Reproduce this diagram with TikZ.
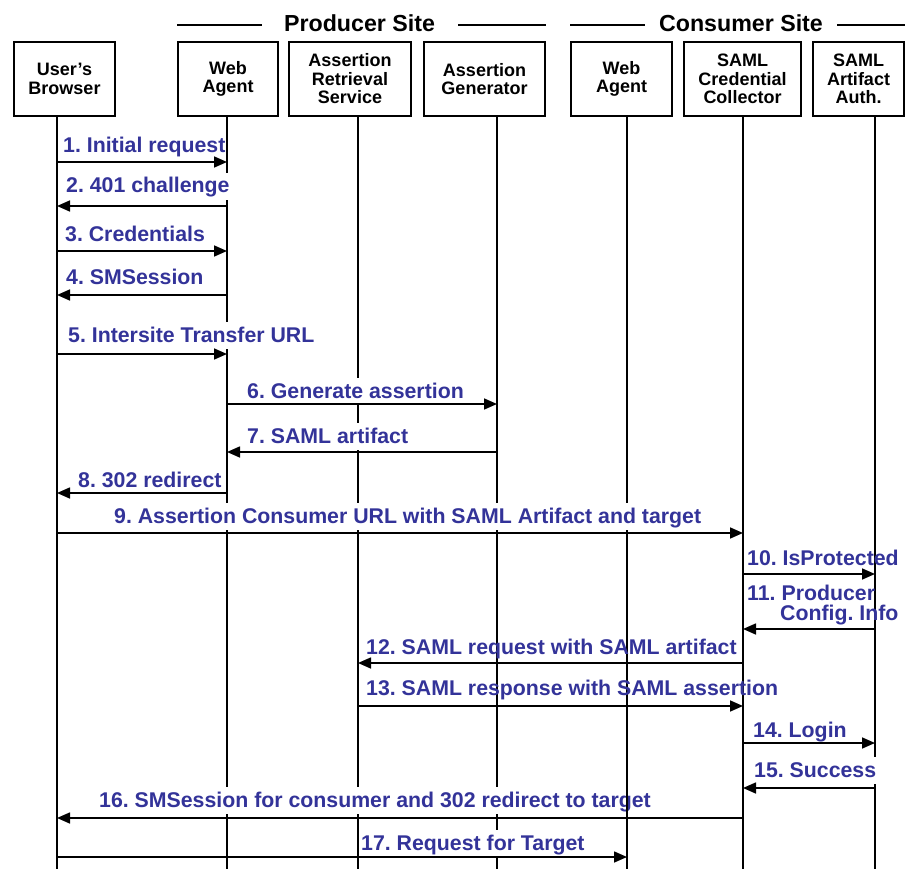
\documentclass[tikz,border=0pt]{standalone}
\usepackage{fontspec}
\setmainfont{Liberation Sans}
\usetikzlibrary{arrows.meta}
\definecolor{msgblue}{RGB}{51,51,153}
\frenchspacing
\begin{document}
\begin{tikzpicture}[x=1pt,y=-1pt,
  actor/.style={draw, line width=1.5pt, minimum width=#1, minimum height=74pt,
    inner sep=0pt, align=center, font=\fontsize{18}{18.5}\selectfont\bfseries},
  site/.style={anchor=base, inner sep=0pt, font=\fontsize{23.2}{24}\selectfont\bfseries},
  hdr/.style={line width=1.5pt},
  life/.style={line width=1.8pt},
  lbl/.style={anchor=base west, inner xsep=0pt, inner ysep=3pt, text height=17pt,
    text depth=4pt, fill=white, text=msgblue, font=\fontsize{21.3}{21.3}\selectfont\bfseries},
  lblplain/.style={anchor=base west, inner sep=0pt, text=msgblue,
    font=\fontsize{21.3}{21.3}\selectfont\bfseries},
  msg/.style={line width=1.6pt, -{Triangle[length=13pt,width=11pt]}}
]
\useasboundingbox (0,0) rectangle (905,869);

% participants
\node[actor=101pt] (ub)  at (64.5,79)  {User's\\Browser};
\node[actor=100pt] (wa1) at (228,79)   {Web\\Agent};
\node[actor=122pt] (ars) at (350,79)   {Assertion\\Retrieval\\Service};
\node[actor=121pt] (ag)  at (484.5,79) {Assertion\\Generator};
\node[actor=101pt] (wa2) at (621.5,79) {Web\\Agent};
\node[actor=117pt] (scc) at (742.5,79) {SAML\\Credential\\Collector};
\node[actor=91pt]  (saa) at (858.5,79) {SAML\\Artifact\\Auth.};

% site headings
\node[site] (ps) at (359.5,32) {Producer Site};
\node[site] (cs) at (741,32)   {Consumer Site};
\draw[hdr] (wa1.west |- 0,25) -- ([xshift=-22pt]ps.west |- 0,25);
\draw[hdr] ([xshift=23pt]ps.east |- 0,25) -- (ag.east |- 0,25);
\draw[hdr] (wa2.west |- 0,25) -- ([xshift=-14pt]cs.west |- 0,25);
\draw[hdr] ([xshift=14pt]cs.east |- 0,25) -- (905,25);

% lifelines
\coordinate (l1) at (ub.south  -| 57,0);
\coordinate (l2) at (wa1.south -| 227,0);
\coordinate (l3) at (ars.south -| 358,0);
\coordinate (l4) at (ag.south  -| 497,0);
\coordinate (l5) at (wa2.south -| 627,0);
\coordinate (l6) at (scc.south -| 743,0);
\coordinate (l7) at (saa.south -| 875,0);
\foreach \l in {l1,l2,l3,l4,l5,l6,l7}
  \draw[life] (\l) -- (\l |- 0,869);

% message labels
\node[lbl] (m1)  at (63,153)  {1. Initial request};
\node[lbl] (m2)  at (66,193)  {2. 401 challenge};
\node[lbl] (m3)  at (65,242)  {3. Credentials};
\node[lbl] (m4)  at (66,284)  {4. SMSession};
\node[lbl] (m5)  at (68,342)  {5. Intersite Transfer URL};
\node[lbl] (m6)  at (247,398) {6. Generate assertion};
\node[lbl] (m7)  at (247,443) {7. SAML artifact};
\node[lbl] (m8)  at (78,487)  {8. 302 redirect};
\node[lbl] (m9)  at (114,523) {9. Assertion Consumer URL with SAML Artifact and target};
\node[lblplain] (m10) at (747,565) {10. IsProtected};
\node[lblplain, anchor=north west, align=left,
  font=\fontsize{21.3}{20}\selectfont\bfseries] (m11) at (747,584.5)
  {11. Producer\\\hspace*{33pt}Config. Info};
\node[lblplain] (m12) at (366,654) {12. SAML request with SAML artifact};
\node[lblplain] (m13) at (366,695) {13. SAML response with SAML assertion};
\node[lbl] (m14) at (753,737) {14. Login};
\node[lbl] (m15) at (754,777) {15. Success};
\node[lbl] (m16) at (99,807)  {16. SMSession for consumer and 302 redirect to target};
\node[lbl] (m17) at (361,850) {17. Request for Target};
% the consumer web agent's lifeline runs over message 16's text
\draw[life] (l5 |- m16.north) -- (l5 |- m16.south);

% messages
\draw[msg] (l1 |- 0,162) -- (l2 |- 0,162);
\draw[msg] (l2 |- 0,206) -- (l1 |- 0,206);
\draw[msg] (l1 |- 0,251) -- (l2 |- 0,251);
\draw[msg] (l2 |- 0,295) -- (l1 |- 0,295);
\draw[msg] (l1 |- 0,354) -- (l2 |- 0,354);
\draw[msg] (l2 |- 0,404) -- (l4 |- 0,404);
\draw[msg] (l4 |- 0,452) -- (l2 |- 0,452);
\draw[msg] (l2 |- 0,493) -- (l1 |- 0,493);
\draw[msg] (l1 |- 0,533) -- (l6 |- 0,533);
\draw[msg] (l6 |- 0,574) -- (l7 |- 0,574);
\draw[msg] (l7 |- 0,629) -- (l6 |- 0,629);
\draw[msg] (l6 |- 0,663) -- (l3 |- 0,663);
\draw[msg] (l3 |- 0,706) -- (l6 |- 0,706);
\draw[msg] (l6 |- 0,743) -- (l7 |- 0,743);
\draw[msg] (l7 |- 0,788) -- (l6 |- 0,788);
\draw[msg] (l6 |- 0,818) -- (l1 |- 0,818);
\draw[msg] (l1 |- 0,857) -- (l5 |- 0,857);
\end{tikzpicture}
\end{document}
